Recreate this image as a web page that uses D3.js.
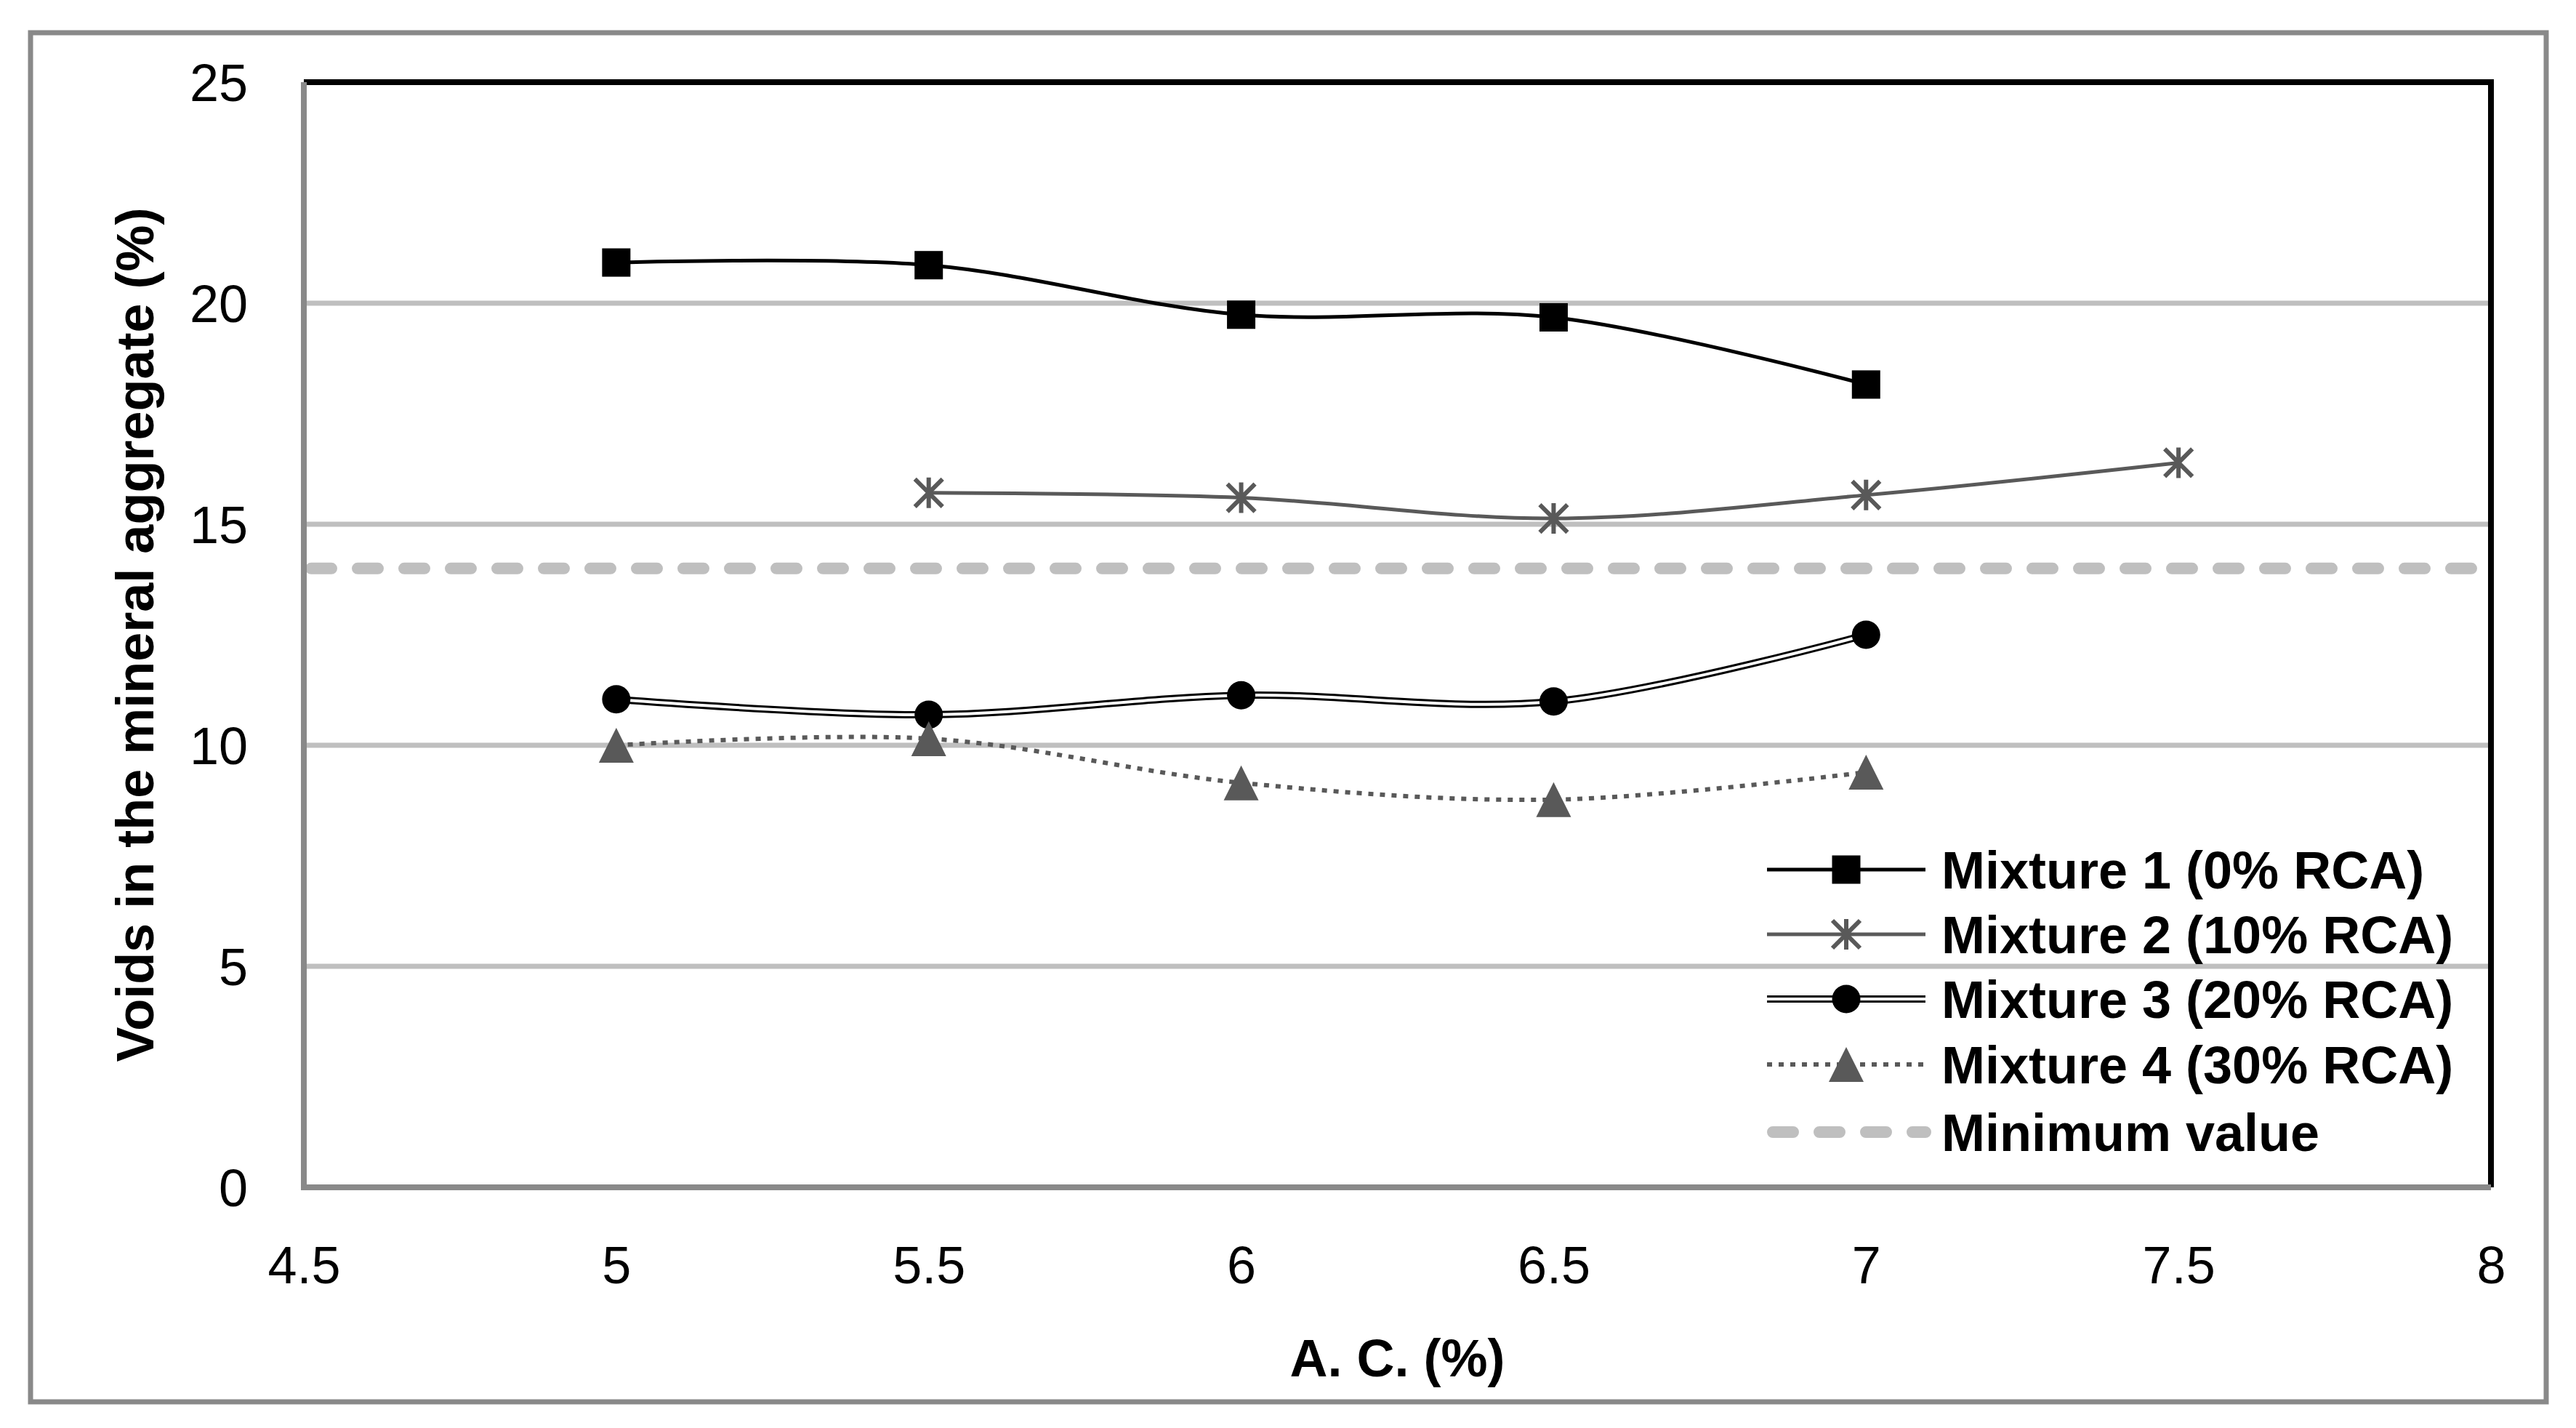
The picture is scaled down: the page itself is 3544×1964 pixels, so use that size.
<!DOCTYPE html>
<html>
<head>
<meta charset="utf-8">
<script src="https://cdn.jsdelivr.net/npm/d3@7"></script>
<style>
  body { margin: 0; background: #fff; }
  text { font-family: "Liberation Sans", Arial, sans-serif; fill: #000; }
</style>
</head>
<body>
<div id="chart"></div>
<script>
var width = 3544;
var height = 1964;

// data
var acValues = [5, 5.5, 6, 6.5, 7, 7.5];
var mix1 = [20.92, 20.86, 19.74, 19.68, 18.16, null];
var mix2 = [null, 15.71, 15.60, 15.13, 15.66, 16.39];
var mix3 = [11.04, 10.69, 11.13, 10.99, 12.50, null];
var mix4 = [10.0, 10.15, 9.15, 8.77, 9.39, null];
var minimumValue = 14;
var seriesNames = ["Mixture 1 (0% RCA)", "Mixture 2 (10% RCA)", "Mixture 3 (20% RCA)", "Mixture 4 (30% RCA)", "Minimum value"];
var xTicks = [4.5, 5, 5.5, 6, 6.5, 7, 7.5, 8];
var yTicks = [0, 5, 10, 15, 20, 25];

var plot = {left: 418, right: 3427, top: 113, bottom: 1633};

var svg = d3.select("#chart").append("svg")
	.attr("width", width)
	.attr("height", height);

// outer chart frame
svg.append("rect")
	.attr("x", 42).attr("y", 45)
	.attr("width", 3503 - 42).attr("height", 1928 - 45)
	.attr("fill", "#fff")
	.attr("stroke", "#898989")
	.attr("stroke-width", 7);

var x = d3.scaleLinear().domain([4.5, 8]).range([plot.left, plot.right]);
var y = d3.scaleLinear().domain([0, 25]).range([plot.bottom, plot.top]);

// gridlines
svg.append("g").selectAll("line")
	.data(yTicks.filter(function(d) { return d > 0 && d < 25; }))
	.enter().append("line")
	.attr("x1", plot.left).attr("x2", plot.right)
	.attr("y1", function(d) { return y(d); })
	.attr("y2", function(d) { return y(d); })
	.attr("stroke", "#bfbfbf")
	.attr("stroke-width", 7);

// minimum value line
svg.append("line")
	.attr("x1", plot.left + 10).attr("x2", plot.right - 10)
	.attr("y1", y(minimumValue)).attr("y2", y(minimumValue))
	.attr("stroke", "#bfbfbf")
	.attr("stroke-width", 16)
	.attr("stroke-linecap", "round")
	.attr("stroke-dasharray", "28 36");

// plot frame: black top/right, grey axes left/bottom
svg.append("path")
	.attr("d", "M" + plot.left + "," + plot.top + "H" + plot.right + "V" + plot.bottom)
	.attr("fill", "none").attr("stroke", "#000").attr("stroke-width", 8);
svg.append("path")
	.attr("d", "M" + plot.left + "," + plot.top + "V" + plot.bottom + "H" + plot.right)
	.attr("fill", "none").attr("stroke", "#898989").attr("stroke-width", 8);

function toPoints(vals) {
	var pts = [];
	for (var i = 0; i < vals.length; i++) {
		if (vals[i] != null) pts.push([acValues[i], vals[i]]);
	}
	return pts;
}

var line = d3.line()
	.x(function(d) { return x(d[0]); })
	.y(function(d) { return y(d[1]); })
	.curve(d3.curveCatmullRom.alpha(0.5));

var series = [
	{name: seriesNames[0], pts: toPoints(mix1), marker: "square"},
	{name: seriesNames[1], pts: toPoints(mix2), marker: "star"},
	{name: seriesNames[2], pts: toPoints(mix3), marker: "circle"},
	{name: seriesNames[3], pts: toPoints(mix4), marker: "triangle"}
];

function drawLine(g, idx, d) {
	if (idx == 0) {
		g.append("path").attr("d", d).attr("fill", "none").attr("stroke", "#000").attr("stroke-width", 5);
	} else if (idx == 1) {
		g.append("path").attr("d", d).attr("fill", "none").attr("stroke", "#595959").attr("stroke-width", 5);
	} else if (idx == 2) {
		g.append("path").attr("d", d).attr("fill", "none").attr("stroke", "#000").attr("stroke-width", 10);
		g.append("path").attr("d", d).attr("fill", "none").attr("stroke", "#fff").attr("stroke-width", 4);
	} else {
		g.append("path").attr("d", d).attr("fill", "none").attr("stroke", "#595959").attr("stroke-width", 6)
			.attr("stroke-dasharray", "7 9");
	}
}

function drawMarker(g, type, cx, cy) {
	if (type == "square") {
		g.append("rect").attr("x", cx - 19.5).attr("y", cy - 19.5)
			.attr("width", 39).attr("height", 39).attr("fill", "#000");
	} else if (type == "star") {
		var h = 19;
		g.append("path")
			.attr("d", "M" + (cx - h) + "," + (cy - h) + "L" + (cx + h) + "," + (cy + h) +
				"M" + (cx - h) + "," + (cy + h) + "L" + (cx + h) + "," + (cy - h) +
				"M" + cx + "," + (cy - h - 2) + "L" + cx + "," + (cy + h + 2))
			.attr("stroke", "#595959").attr("stroke-width", 6).attr("fill", "none");
	} else if (type == "circle") {
		g.append("circle").attr("cx", cx).attr("cy", cy).attr("r", 19.5).attr("fill", "#000");
	} else {
		g.append("path")
			.attr("d", "M" + cx + "," + (cy - 24) + "L" + (cx + 24) + "," + (cy + 24) + "L" + (cx - 24) + "," + (cy + 24) + "Z")
			.attr("fill", "#595959");
	}
}

var linesG = svg.append("g");
series.forEach(function(s, i) {
	drawLine(linesG, i, line(s.pts));
});
var markersG = svg.append("g");
series.forEach(function(s) {
	s.pts.forEach(function(p) {
		drawMarker(markersG, s.marker, x(p[0]), y(p[1]));
	});
});

// axes
var xAxis = d3.axisBottom(x).tickValues(xTicks).tickSize(0).tickPadding(81)
	.tickFormat(function(d) { return String(d); });
var gx = svg.append("g").attr("transform", "translate(0," + plot.bottom + ")").call(xAxis);
gx.select(".domain").remove();
gx.selectAll("text").style("font-size", "72px").style("font-family", "Liberation Sans").attr("fill", "#000");

var yAxis = d3.axisLeft(y).tickValues(yTicks).tickSize(0).tickPadding(77)
	.tickFormat(function(d) { return String(d); });
var gy = svg.append("g").attr("transform", "translate(" + plot.left + ",0)").call(yAxis);
gy.select(".domain").remove();
gy.selectAll("text").style("font-size", "72px").style("font-family", "Liberation Sans").attr("fill", "#000")
	.attr("dy", "0.36em");

// axis titles
svg.append("text")
	.attr("x", (plot.left + plot.right) / 2).attr("y", 1893)
	.attr("text-anchor", "middle")
	.style("font-size", "72px").style("font-weight", "bold")
	.text("A. C. (%)");

svg.append("text")
	.attr("transform", "translate(211," + (plot.top + plot.bottom) / 2 + ") rotate(-90)")
	.attr("text-anchor", "middle")
	.style("font-size", "72px").style("font-weight", "bold")
	.text("Voids in the mineral aggregate (%)");

// legend
var legendRows = [1196, 1285, 1374, 1464, 1557];
var legend = svg.append("g");
seriesNames.forEach(function(name, i) {
	var ly = legendRows[i];
	var lx1 = 2431, lx2 = 2649, mx = 2540;
	if (i < 4) {
		drawLine(legend, i, "M" + lx1 + "," + ly + "H" + lx2);
		drawMarker(legend, series[i].marker, mx, ly);
	} else {
		legend.append("line")
			.attr("x1", lx1 + 8).attr("x2", lx2)
			.attr("y1", ly).attr("y2", ly)
			.attr("stroke", "#bfbfbf").attr("stroke-width", 16)
			.attr("stroke-linecap", "round").attr("stroke-dasharray", "28 36");
	}
	legend.append("text")
		.attr("x", 2671).attr("y", ly + 26)
		.style("font-size", "72px").style("font-weight", "bold")
		.text(name);
});
</script>
</body>
</html>
